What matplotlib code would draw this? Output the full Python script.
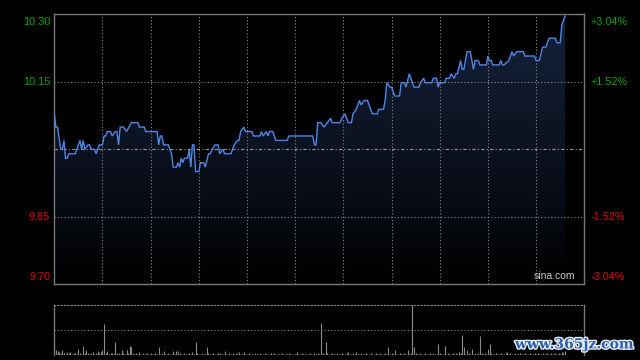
import numpy as np
import matplotlib
matplotlib.use("Agg")
import matplotlib.pyplot as plt
import matplotlib.patheffects as pe
from matplotlib.colors import LinearSegmentedColormap

# ---------------- data ----------------
prev_close = 10.00
pct_limit = 3.04  # axis range in percent

# minutes since open (HK session, 330 minutes) and price at those minutes
minutes = [0, 1, 2, 4, 5, 6, 7, 8, 9, 13, 16, 17, 18, 19, 21, 22, 23, 25, 26, 28,
           30, 31, 32, 33, 35, 36, 38, 39, 40, 41, 43, 45, 48, 52, 53, 56, 57, 64, 65, 66,
           67, 68, 71, 73, 74, 76, 77, 78, 79, 80, 81, 83, 84, 85, 86, 87, 88, 90, 91, 93,
           94, 96, 97, 100, 102, 103, 105, 106, 110, 112, 114, 115, 116, 118, 119, 123, 124, 128, 129, 130,
           132, 133, 134, 136, 137, 138, 145, 146, 161, 162, 163, 164, 166, 168, 170, 172, 173, 178, 179, 181,
           183, 185, 186, 188, 190, 191, 193, 195, 196, 198, 201, 202, 205, 206, 207, 209, 210, 212, 215, 216,
           218, 219, 221, 222, 224, 227, 228, 230, 231, 235, 236, 238, 239, 240, 243, 244, 246, 247, 249, 250,
           251, 253, 254, 255, 257, 259, 261, 262, 264, 265, 269, 270, 271, 272, 273, 277, 278, 279, 280, 283,
           285, 286, 288, 292, 293, 299, 300, 302, 304, 306, 308, 312, 313, 315, 316, 318]
prices = [10.08, 10.05, 10.05, 10.00, 10.00, 10.02, 9.98, 9.98, 9.99, 9.99, 10.02, 10.00, 10.02, 10.00, 10.01, 10.01, 10.00, 10.00, 9.99, 10.01,
          10.01, 10.03, 10.03, 10.04, 10.04, 10.03, 10.04, 10.04, 10.01, 10.05, 10.05, 10.04, 10.06, 10.06, 10.05, 10.05, 10.04, 10.04, 10.01, 10.03,
          10.03, 10.01, 10.01, 9.99, 9.96, 9.96, 9.97, 9.96, 9.98, 9.97, 9.98, 9.98, 10.00, 9.96, 10.01, 10.01, 9.95, 9.95, 9.97, 9.97,
          9.96, 9.99, 9.99, 10.01, 10.01, 9.99, 10.00, 9.99, 9.99, 10.01, 10.02, 10.02, 10.04, 10.05, 10.04, 10.04, 10.03, 10.03, 10.04, 10.03,
          10.04, 10.03, 10.04, 10.04, 10.03, 10.02, 10.02, 10.03, 10.03, 10.01, 10.01, 10.06, 10.06, 10.05, 10.06, 10.07, 10.06, 10.06, 10.07, 10.08,
          10.06, 10.06, 10.08, 10.09, 10.11, 10.10, 10.11, 10.11, 10.10, 10.08, 10.08, 10.09, 10.09, 10.11, 10.15, 10.14, 10.14, 10.12, 10.12, 10.15,
          10.15, 10.14, 10.17, 10.16, 10.14, 10.14, 10.15, 10.16, 10.15, 10.15, 10.16, 10.16, 10.14, 10.15, 10.15, 10.16, 10.16, 10.17, 10.16, 10.17,
          10.17, 10.20, 10.18, 10.18, 10.22, 10.22, 10.18, 10.20, 10.20, 10.19, 10.19, 10.21, 10.20, 10.20, 10.19, 10.19, 10.20, 10.19, 10.19, 10.20,
          10.22, 10.21, 10.22, 10.22, 10.21, 10.21, 10.20, 10.20, 10.23, 10.23, 10.25, 10.25, 10.24, 10.24, 10.28, 10.30]

# volume per minute (relative units, minute 0..318)
volume = [5, 5, 4, 3, 2, 5, 2, 1, 3, 2, 3, 1, 2, 2, 1, 6, 2, 1, 9, 2,
          5, 2, 1, 2, 3, 1, 2, 4, 2, 3, 5, 31, 2, 4, 1, 2, 2, 1, 13, 2,
          2, 1, 5, 2, 1, 5, 2, 9, 8, 2, 1, 2, 1, 3, 1, 2, 1, 1, 2, 1,
          2, 1, 1, 2, 1, 8, 1, 2, 4, 1, 1, 2, 1, 1, 4, 1, 4, 4, 2, 1,
          1, 2, 1, 1, 2, 1, 3, 1, 13, 2, 1, 1, 2, 1, 1, 8, 2, 1, 1, 2,
          1, 1, 2, 2, 1, 1, 4, 1, 1, 2, 1, 2, 1, 1, 2, 3, 1, 1, 3, 1,
          1, 2, 1, 1, 1, 2, 1, 1, 2, 1, 1, 2, 1, 1, 1, 2, 1, 2, 1, 1,
          1, 1, 2, 1, 1, 1, 2, 1, 1, 1, 1, 3, 1, 1, 2, 1, 1, 1, 1, 2,
          1, 1, 2, 1, 2, 1, 32, 2, 1, 13, 2, 1, 1, 2, 1, 1, 2, 1, 1, 2,
          1, 1, 2, 3, 1, 1, 2, 1, 3, 1, 1, 2, 1, 1, 2, 1, 1, 2, 1, 1,
          2, 1, 1, 2, 1, 1, 2, 1, 8, 1, 2, 1, 5, 1, 1, 2, 1, 1, 2, 1,
          5, 1, 2, 50, 8, 2, 1, 1, 2, 1, 1, 2, 1, 1, 2, 1, 2, 1, 1, 11,
          2, 1, 1, 9, 1, 2, 1, 1, 2, 1, 2, 1, 3, 2, 20, 8, 1, 5, 2, 1,
          6, 1, 2, 1, 2, 19, 2, 1, 2, 1, 6, 11, 2, 1, 1, 2, 1, 1, 2, 1,
          1, 2, 3, 1, 2, 1, 1, 2, 1, 1, 2, 1, 1, 2, 1, 1, 2, 1, 1, 2,
          1, 2, 1, 1, 2, 1, 1, 2, 1, 2, 1, 1, 2, 1, 2, 1, 3, 2, 4]

left_labels = ["10.30", "10.15", "9.85", "9.70"]
right_labels = ["+3.04%", "+1.52%", "-1.52%", "-3.04%"]
session_minutes = 330

# ---------------- style ----------------
BG = "#000000"
GRID = "#8a8a8a"
BORDER = "#777777"
LINE = "#4f86e6"
GREEN = "#00a800"
RED = "#e00000"
FONT = "Liberation Sans"

fig = plt.figure(figsize=(6.4, 3.6), dpi=100, facecolor=BG)
L, W = 54.3 / 640, 530 / 640
ax = fig.add_axes([L, 1 - 284.3 / 360, W, 270 / 360])
axv = fig.add_axes([L, 1 - 355.3 / 360, W, 50.3 / 360])

lo = prev_close * (1 - pct_limit / 100)
hi = prev_close * (1 + pct_limit / 100)
lev = [hi, prev_close * (1 + pct_limit / 200), prev_close * (1 - pct_limit / 200), lo]

ax.set_facecolor(BG)
ax.set_xlim(0, session_minutes)
ax.set_ylim(lo, hi)

# gradient fill under the line
cmap = LinearSegmentedColormap.from_list("g", ["#000000", "#0b1220", "#16223b"])
grad = np.linspace(0, 1, 256).reshape(-1, 1)
im = ax.imshow(grad, extent=[0, session_minutes, lo, hi], origin="lower",
               aspect="auto", cmap=cmap, zorder=1)
poly = ax.fill_between(minutes, prices, lo, color="none", lw=0)
clip_path = poly.get_paths()[0]
im.set_clip_path(clip_path, transform=ax.transData)

# grid
for k in range(1, 11):
    ax.axvline(k * 30, color=GRID, lw=0.8, ls=(0, (1, 2)), zorder=2)
for v in (lev[1], lev[2]):
    ax.axhline(v, color=GRID, lw=0.8, ls=(0, (1, 2)), zorder=2)
ax.axhline(prev_close, color="#9a9a9a", lw=0.8, ls=(0, (3, 2, 1, 2)), zorder=2)

ax.plot(minutes, prices, color=LINE, lw=1.0, zorder=3, solid_joinstyle="miter")

ax.set_xticks([])
ax.set_yticks([])
for s in ax.spines.values():
    s.set_color(BORDER)
    s.set_linewidth(1.0)

# tick labels (top/bottom ones kept inside the panel height)
colors = [GREEN, GREEN, RED, RED]
vas = ["top", "center", "center", "bottom"]
offs = [-2, 0, 0, 2]
for v, t, c, va, o in zip(lev, left_labels, colors, vas, offs):
    ax.annotate(t, (0, v), xycoords=ax.get_yaxis_transform(), xytext=(-3, o),
                textcoords="offset points", ha="right", va=va, color=c,
                fontsize=7.8, family=FONT)
for v, t, c, va, o in zip(lev, right_labels, colors, vas, offs):
    ax.annotate(t, (1, v), xycoords=ax.get_yaxis_transform(), xytext=(4.5, o),
                textcoords="offset points", ha="left", va=va, color=c,
                fontsize=7.8, family=FONT)

ax.text(0.982, 0.014, "sina.com", transform=ax.transAxes, ha="right", va="bottom",
        color="#c8c8c8", fontsize=7.5, family=FONT, zorder=5)

# volume panel
axv.set_facecolor(BG)
axv.set_xlim(0, session_minutes)
axv.set_ylim(0, max(volume))
axv.vlines(np.arange(len(volume)), 0, volume, color="#8c8c8c", lw=0.8)
axv.axhline(max(volume) / 2, color=GRID, lw=0.8, ls=(0, (1, 2)))
axv.set_xticks([])
axv.set_yticks([])
axv.spines["top"].set_color(GRID)
axv.spines["top"].set_linestyle((0, (1, 2)))
axv.spines["top"].set_linewidth(0.8)
axv.spines["bottom"].set_visible(False)
for s in ("left", "right"):
    axv.spines[s].set_color(BORDER)
    axv.spines[s].set_linewidth(1.0)

# watermark
fig.text(0.99, 0.024, "www.365jz.com", ha="right", va="bottom", color="#2b5fae",
         fontsize=10, fontweight="bold", family="DejaVu Serif",
         path_effects=[pe.withStroke(linewidth=2, foreground="#e8eef8")])

fig.savefig("out.png", dpi=100, facecolor=BG)
